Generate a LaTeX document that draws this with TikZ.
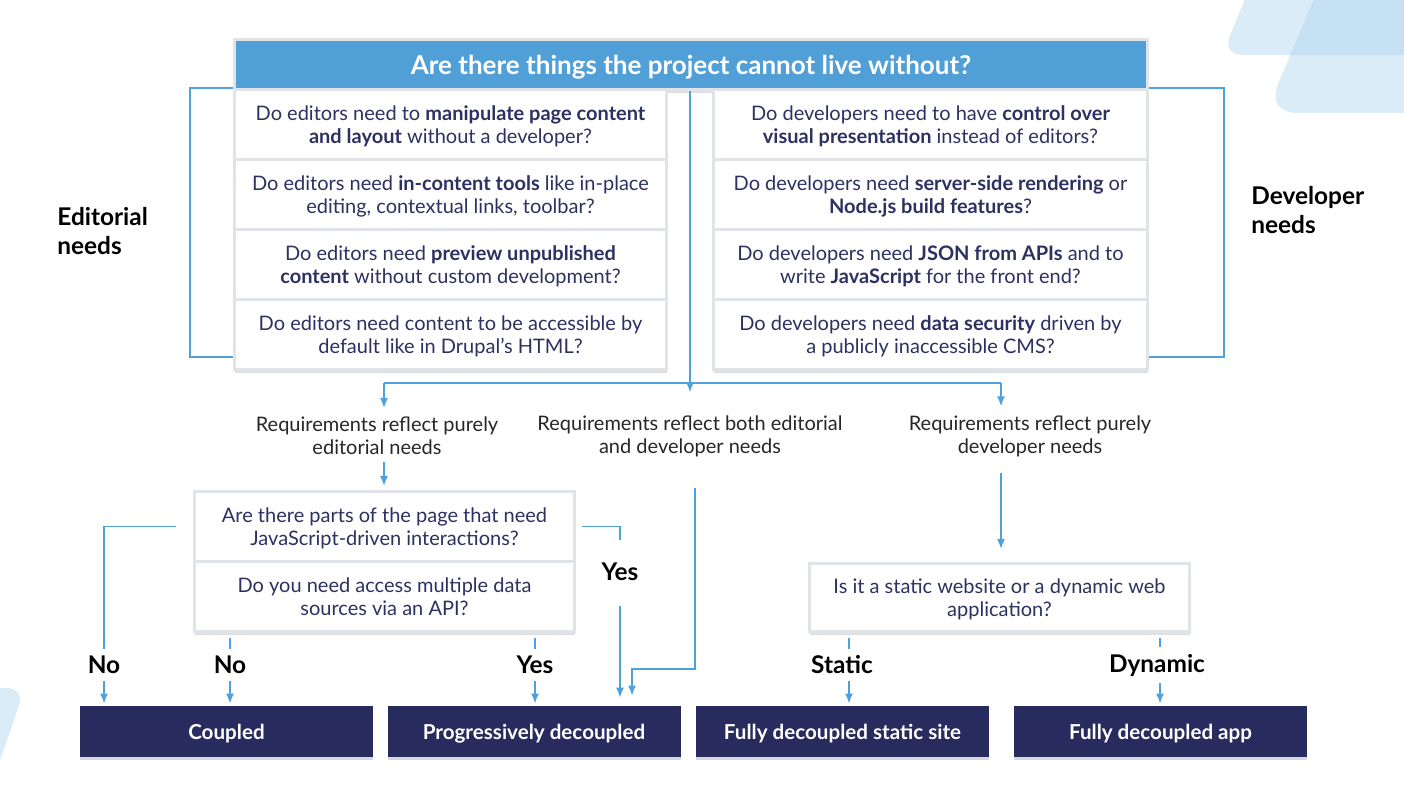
\documentclass[tikz,border=0pt]{standalone}
\usepackage{fontspec}
\setmainfont{Lato}
\usetikzlibrary{arrows.meta,shadows}
\definecolor{flowblue}{HTML}{519FD7}
\definecolor{linkblue}{HTML}{4FA1DB}
\definecolor{outnavy}{HTML}{272B5D}
\definecolor{inkblue}{HTML}{2D3161}
\definecolor{cellgray}{HTML}{E0E3E8}
\definecolor{decoblue}{HTML}{AED4EE}

\begin{document}
\begin{tikzpicture}[x=0.5pt,y=-0.5pt,>={Latex[length=5pt,width=4pt]}]
  \tikzstyle{deco}=[fill=decoblue, fill opacity=0.45]
  \tikzstyle{cell}=[draw=cellgray, line width=1.5pt, fill=white, text=inkblue, align=center, inner sep=0pt, text depth=0pt,
    font=\fontsize{10}{11.5}\selectfont, drop shadow={shadow xshift=0pt, shadow yshift=-1.5pt, opacity=0.25}]
  \tikzstyle{lcell}=[cell, minimum width=216pt, minimum height=35pt]
  \tikzstyle{rcell}=[cell, minimum width=217pt, minimum height=35pt]
  \tikzstyle{head}=[cell, fill=flowblue, text=white, font=\fontsize{13}{15}\selectfont\bfseries]
  \tikzstyle{req}=[text=black!85, align=center, font=\fontsize{10}{11.5}\selectfont]
  \tikzstyle{answer}=[font=\fontsize{12.2}{14}\selectfont\bfseries]
  \tikzstyle{side}=[font=\fontsize{12.2}{14.5}\selectfont\bfseries, align=left, anchor=west, inner sep=0pt]
  \tikzstyle{outcome}=[fill=outnavy, text=white, font=\fontsize{10.3}{12}\selectfont\bfseries, text depth=0pt,
    minimum width=146.5pt, minimum height=25.5pt, drop shadow={shadow xshift=0pt, shadow yshift=-1.5pt, opacity=0.3}]
  \tikzstyle{link}=[draw=linkblue, line width=0.8pt]
  \tikzstyle{flow}=[link, ->]

  \useasboundingbox (0,0) rectangle (1404,788);
  \begin{scope}
    \clip (0,0) rectangle (1404,788);
    \fill[deco, rounded corners=10pt] (1257,-30) -- (1222,55) -- (1430,55) -- (1430,-30) -- cycle;
    \fill[deco, rounded corners=15pt] (1326,-30) -- (1266,113) -- (1430,113) -- (1430,-30) -- cycle;
    \fill[deco, rounded corners=9pt] (-40,688) -- (25,688) -- (-5,775) -- (-40,775) -- cycle;
  \end{scope}

  \node[head, minimum width=456.5pt, minimum height=25pt] (head) at (691,64.5) {Are there things the project cannot live without?};
  \node[lcell] (lq1) at (450.5,124.5) {Do editors need to \textbf{manipulate page content}\\\textbf{and layout} without a developer?};
  \node[lcell] (lq2) at (450.5,194.5) {Do editors need \textbf{in-content tools} like in-place\\editing, contextual links, toolbar?};
  \node[lcell] (lq3) at (450.5,264.5) {Do editors need \textbf{preview unpublished}\\\textbf{content} without custom development?};
  \node[lcell] (lq4) at (450.5,334.5) {Do editors need content to be accessible by\\default like in Drupal’s HTML?};
  \node[rcell] (rq1) at (930.5,124.5) {Do developers need to have \textbf{control over}\\\textbf{visual presentation} instead of editors?};
  \node[rcell] (rq2) at (930.5,194.5) {Do developers need \textbf{server-side rendering} or\\\textbf{Node.js build features}?};
  \node[rcell] (rq3) at (930.5,264.5) {Do developers need \textbf{JSON from APIs} and to\\write \textbf{JavaScript} for the front end?};
  \node[rcell] (rq4) at (930.5,334.5) {Do developers need \textbf{data security} driven by\\a publicly inaccessible CMS?};
  \node[side] (edit) at (57,231) {Editorial\\needs};
  \node[side] (dev) at (1251,210) {Developer\\needs};

  \node[req] (req1) at (377,436) {Requirements reflect purely\\editorial needs};
  \node[req] (req2) at (690,436) {Requirements reflect both editorial\\and developer needs};
  \node[req] (req3) at (1030,436) {Requirements reflect purely\\developer needs};

  \node[cell, minimum width=190pt, minimum height=35pt] (js1) at (384.5,526.5) {Are there parts of the page that need\\JavaScript-driven interactions?};
  \node[cell, minimum width=190pt, minimum height=35pt] (js2) at (384.5,596.5) {Do you need access multiple data\\sources via an API?};
  \node[cell, minimum width=190pt, minimum height=34pt] (site) at (999.5,597.5) {Is it a static website or a dynamic web\\application?};

  \foreach \n/\x/\txt in {coupled/226.5/Coupled, prog/534/Progressively decoupled,
    static/842.5/Fully decoupled static site, app/1160.5/Fully decoupled app} {
    \node[outcome] (\n) at (\x,731.5) {\txt};
  }

  \node[answer] (no1) at (104,665) {No};
  \node[answer] (no2) at (230,665) {No};
  \node[answer] (yes1) at (535,665) {Yes};
  \node[answer] (yes2) at (620,572) {Yes};
  \node[answer] (stat) at (842,665) {Static};
  \node[answer] (dyn) at (1157,665) {Dynamic};

  \coordinate (split) at (690,383);
  \coordinate (forkL) at (384,383);
  \coordinate (forkR) at (1001,383);
  \coordinate (mid) at (695,669);
  \coordinate (bend) at (632,669);
  \coordinate (sx) at (849,664);
  \coordinate (dx) at (1160,664);

  \draw[link] (lq1.north west) -- ++(-43,0) |- ([yshift=7pt]lq4.south west);
  \draw[link] (rq1.north east) -- ++(75,0) |- ([yshift=7pt]rq4.south east);
  \draw[link] (head.south -| split) -- (split);
  \draw[link] (forkL) -- (forkR);
  \draw[flow, shorten >=1pt] (forkL) -- (req1.north -| forkL);
  \draw[flow] (split) -- ([yshift=8pt]req2.north);
  \draw[flow, shorten >=1pt] (forkR) -- (req3.north -| forkR);
  \draw[flow, shorten >=2pt] (req1.south -| forkL) -- (js1.north -| forkL);
  \draw[flow, shorten <=12pt, shorten >=5pt] (req2.south -| mid) -- (mid) -- (bend) -- (prog.north -| bend);
  \draw[flow, shorten <=4.5pt, shorten >=6.5pt] (req3.south -| forkR) -- (site.north -| forkR);

  \draw[link, shorten <=8.5pt] (js1.west) -| (no1.north);
  \draw[link, shorten <=3pt, shorten >=8pt] (js1.east) -| (yes2.north);
  \draw[flow, shorten <=9pt, shorten >=4pt] (yes2.south) -- (prog.north -| yes2);
  \draw[link, shorten <=2.5pt] (js2.south -| no2) -- (no2.north);
  \draw[link, shorten <=2.5pt] (js2.south -| yes1) -- (yes1.north);
  \draw[link, shorten <=2.5pt] (site.south -| sx) -- (stat.north -| sx);
  \draw[link, shorten <=2.5pt] (site.south -| dx) -- (dyn.north -| dx);
  \draw[flow, shorten >=1pt] (no1.south) -- (coupled.north -| no1);
  \draw[flow, shorten >=1pt] (no2.south) -- (coupled.north -| no2);
  \draw[flow, shorten >=1pt] (yes1.south) -- (prog.north -| yes1);
  \draw[flow, shorten >=1pt] (stat.south -| sx) -- (static.north -| sx);
  \draw[flow, shorten >=1pt] (dyn.south -| dx) -- (app.north -| dx);
\end{tikzpicture}
\end{document}
